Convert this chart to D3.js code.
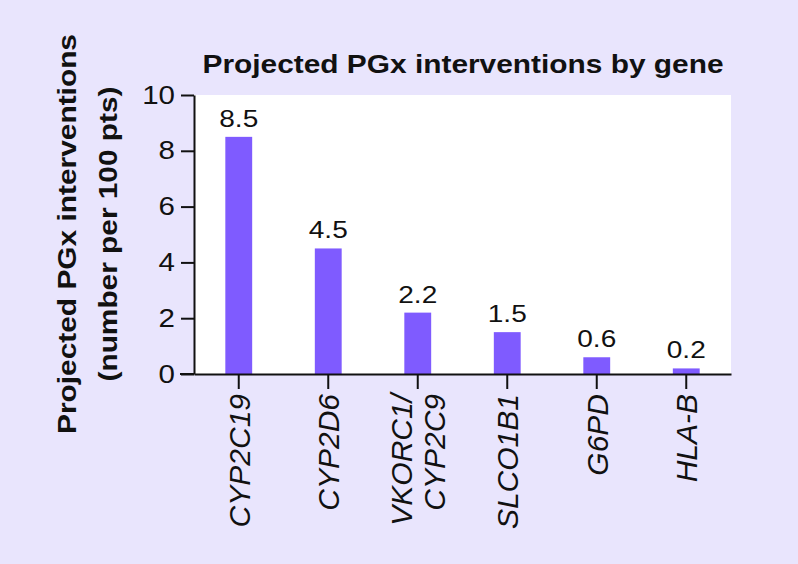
<!DOCTYPE html>
<html><head><meta charset="utf-8">
<script src="https://cdn.jsdelivr.net/npm/d3@7"></script>
<style>body{margin:0;background:#e9e5fd;} svg{display:block;font-family:"Liberation Sans",Arial,sans-serif;}</style>
</head><body>
<script>
const genes = [["CYP2C19"],["CYP2D6"],["VKORC1/","CYP2C9"],["SLCO1B1"],["G6PD"],["HLA-B"]];
const values = [8.5, 4.5, 2.2, 1.5, 0.6, 0.2];
const valueLabels = ["8.5","4.5","2.2","1.5","0.6","0.2"];
const yTicks = [0,2,4,6,8,10];
const titleText = "Projected PGx interventions by gene";
const yLabel = ["Projected PGx interventions","(number per 100 pts)"];

const W=798,H=564;
const svg=d3.select("body").append("svg").attr("width",W).attr("height",H);
svg.append("rect").attr("width",W).attr("height",H).attr("fill","#e9e5fd");
const L=194,R=731,T=95,B=374;
const ids=genes.map((g,i)=>i);
const x=d3.scaleBand().domain(ids).range([L,R]).paddingInner(0.7).paddingOuter(0.35);
const y=d3.scaleLinear().domain([0,10]).range([B,T]);

svg.append("rect").attr("x",L).attr("y",T).attr("width",R-L).attr("height",B-T).attr("fill","#fff");

svg.selectAll(".bar").data(values).join("rect")
  .attr("x",(d,i)=>x(i)).attr("width",x.bandwidth())
  .attr("y",d=>y(d)).attr("height",d=>y(0)-y(d)).attr("fill","#7f5bff");

svg.selectAll(".vl").data(values).join("text")
  .attr("transform",(d,i)=>`translate(${x(i)+x.bandwidth()/2},${y(d)-10}) scale(1.22,1)`)
  .attr("text-anchor","middle").attr("font-size",23).attr("fill","#111")
  .text((d,i)=>valueLabels[i]);

// y axis
const ya=svg.append("g").attr("transform",`translate(${L},0)`)
  .call(d3.axisLeft(y).tickValues(yTicks).tickSize(13).tickPadding(0).tickSizeOuter(0));
ya.select(".domain").attr("stroke","#111").attr("stroke-width",2);
ya.selectAll(".tick line").attr("stroke","#111").attr("stroke-width",2);
ya.selectAll(".tick text").attr("x",0).attr("transform","translate(-19,0) scale(1.18,1)")
  .attr("font-size",25).attr("fill","#111").attr("font-family","Liberation Sans, Arial, sans-serif");

// x axis
const xa=svg.append("g").attr("transform",`translate(0,${B})`)
  .call(d3.axisBottom(x).tickSize(15).tickSizeOuter(0).tickFormat(""));
xa.select(".domain").attr("stroke","#111").attr("stroke-width",2);
xa.selectAll(".tick line").attr("stroke","#111").attr("stroke-width",2);
svg.append("line").attr("x1",180).attr("x2",L).attr("y1",B).attr("y2",B).attr("stroke","#111").attr("stroke-width",2);

// x labels
genes.forEach((lines,i)=>{
  const cx=x(i)+x.bandwidth()/2;
  const n=lines.length;
  lines.forEach((t,j)=>{
    const off=(j-(n-1)/2)*33;
    svg.append("text")
      .attr("transform",`translate(${cx+off},${B+20}) rotate(-90)`)
      .attr("dy","0.36em").attr("text-anchor","end")
      .attr("font-size",30).attr("font-style","italic").attr("fill","#111")
      .text(t);
  });
});

// title
svg.append("text").attr("x",463).attr("y",73).attr("text-anchor","middle")
  .attr("textLength",521).attr("lengthAdjust","spacingAndGlyphs")
  .attr("font-size",25).attr("font-weight","bold").attr("fill","#111").text(titleText);

// y label
const yLen=[400,295];
yLabel.forEach((t,j)=>{
  svg.append("text").attr("transform",`translate(${76+j*41},234) rotate(-90)`)
    .attr("text-anchor","middle").attr("textLength",yLen[j]).attr("lengthAdjust","spacingAndGlyphs")
    .attr("font-size",25).attr("font-weight","bold").attr("fill","#111").text(t);
});
</script>
</body></html>
